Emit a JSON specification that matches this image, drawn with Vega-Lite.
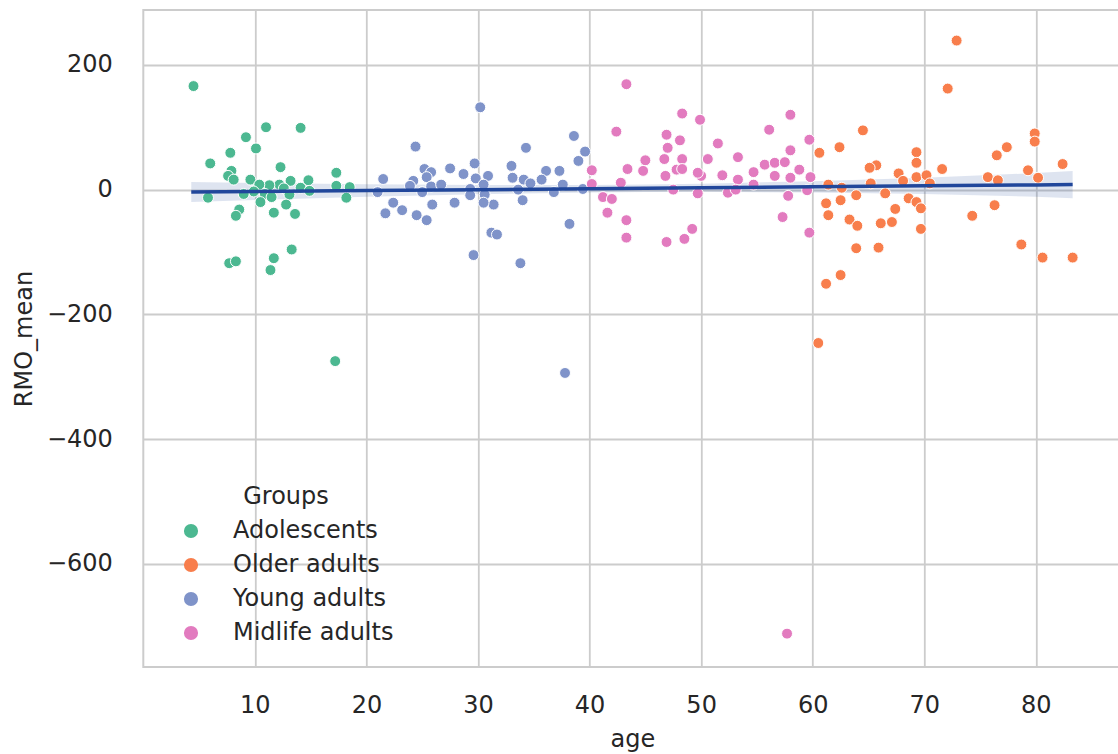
{
  "$schema": "https://vega.github.io/schema/vega-lite/v6.json",
  "width": 978,
  "height": 657,
  "autosize": "none",
  "padding": {"left": 143.3, "top": 10, "right": 0, "bottom": 87},
  "background": "white",
  "config": {
    "font": "DejaVu Sans",
    "view": {"stroke": "#cccccc", "strokeWidth": 2},
    "axis": {
      "grid": true,
      "gridColor": "#cccccc",
      "gridWidth": 1.8,
      "domain": false,
      "ticks": false,
      "labelFont": "DejaVu Sans",
      "labelFontSize": 24,
      "labelColor": "#262626",
      "titleFont": "DejaVu Sans",
      "titleFontSize": 24,
      "titleFontWeight": "normal",
      "titleColor": "#262626"
    },
    "legend": {
      "labelFont": "DejaVu Sans",
      "titleFont": "DejaVu Sans",
      "labelColor": "#262626",
      "titleColor": "#262626"
    }
  },
  "datasets": {
    "points": [
      {"age": 4.5, "RMO_mean": 166, "Groups": "Adolescents"},
      {"age": 11.0, "RMO_mean": 100, "Groups": "Adolescents"},
      {"age": 14.1, "RMO_mean": 99, "Groups": "Adolescents"},
      {"age": 9.2, "RMO_mean": 84, "Groups": "Adolescents"},
      {"age": 10.1, "RMO_mean": 66, "Groups": "Adolescents"},
      {"age": 7.8, "RMO_mean": 59, "Groups": "Adolescents"},
      {"age": 6.0, "RMO_mean": 42, "Groups": "Adolescents"},
      {"age": 12.3, "RMO_mean": 36, "Groups": "Adolescents"},
      {"age": 17.3, "RMO_mean": 27, "Groups": "Adolescents"},
      {"age": 7.9, "RMO_mean": 30, "Groups": "Adolescents"},
      {"age": 7.6, "RMO_mean": 22, "Groups": "Adolescents"},
      {"age": 8.1, "RMO_mean": 16, "Groups": "Adolescents"},
      {"age": 9.6, "RMO_mean": 16, "Groups": "Adolescents"},
      {"age": 13.2, "RMO_mean": 14, "Groups": "Adolescents"},
      {"age": 14.8, "RMO_mean": 15, "Groups": "Adolescents"},
      {"age": 12.2, "RMO_mean": 8, "Groups": "Adolescents"},
      {"age": 11.3, "RMO_mean": 7, "Groups": "Adolescents"},
      {"age": 17.3, "RMO_mean": 6, "Groups": "Adolescents"},
      {"age": 18.5, "RMO_mean": 4, "Groups": "Adolescents"},
      {"age": 10.3, "RMO_mean": 3, "Groups": "Adolescents"},
      {"age": 14.1, "RMO_mean": 3, "Groups": "Adolescents"},
      {"age": 10.4, "RMO_mean": 8, "Groups": "Adolescents"},
      {"age": 9.9, "RMO_mean": -3, "Groups": "Adolescents"},
      {"age": 12.6, "RMO_mean": 2, "Groups": "Adolescents"},
      {"age": 9.0, "RMO_mean": -7, "Groups": "Adolescents"},
      {"age": 10.9, "RMO_mean": -7, "Groups": "Adolescents"},
      {"age": 13.1, "RMO_mean": -8, "Groups": "Adolescents"},
      {"age": 14.9, "RMO_mean": -2, "Groups": "Adolescents"},
      {"age": 5.8, "RMO_mean": -13, "Groups": "Adolescents"},
      {"age": 18.2, "RMO_mean": -13, "Groups": "Adolescents"},
      {"age": 10.5, "RMO_mean": -20, "Groups": "Adolescents"},
      {"age": 11.5, "RMO_mean": -12, "Groups": "Adolescents"},
      {"age": 12.8, "RMO_mean": -24, "Groups": "Adolescents"},
      {"age": 8.6, "RMO_mean": -32, "Groups": "Adolescents"},
      {"age": 8.3, "RMO_mean": -42, "Groups": "Adolescents"},
      {"age": 11.7, "RMO_mean": -37, "Groups": "Adolescents"},
      {"age": 13.6, "RMO_mean": -39, "Groups": "Adolescents"},
      {"age": 13.3, "RMO_mean": -96, "Groups": "Adolescents"},
      {"age": 11.7, "RMO_mean": -110, "Groups": "Adolescents"},
      {"age": 7.7, "RMO_mean": -118, "Groups": "Adolescents"},
      {"age": 8.3, "RMO_mean": -115, "Groups": "Adolescents"},
      {"age": 11.4, "RMO_mean": -129, "Groups": "Adolescents"},
      {"age": 17.2, "RMO_mean": -275, "Groups": "Adolescents"},
      {"age": 60.6, "RMO_mean": 59, "Groups": "Older adults"},
      {"age": 61.2, "RMO_mean": -22, "Groups": "Older adults"},
      {"age": 61.4, "RMO_mean": -41, "Groups": "Older adults"},
      {"age": 61.2, "RMO_mean": -151, "Groups": "Older adults"},
      {"age": 72.9, "RMO_mean": 239, "Groups": "Older adults"},
      {"age": 72.1, "RMO_mean": 162, "Groups": "Older adults"},
      {"age": 64.5, "RMO_mean": 95, "Groups": "Older adults"},
      {"age": 62.4, "RMO_mean": 68, "Groups": "Older adults"},
      {"age": 79.9, "RMO_mean": 90, "Groups": "Older adults"},
      {"age": 79.9, "RMO_mean": 77, "Groups": "Older adults"},
      {"age": 77.4, "RMO_mean": 68, "Groups": "Older adults"},
      {"age": 76.5, "RMO_mean": 55, "Groups": "Older adults"},
      {"age": 69.3, "RMO_mean": 60, "Groups": "Older adults"},
      {"age": 69.3, "RMO_mean": 43, "Groups": "Older adults"},
      {"age": 65.7, "RMO_mean": 39, "Groups": "Older adults"},
      {"age": 65.1, "RMO_mean": 35, "Groups": "Older adults"},
      {"age": 71.6, "RMO_mean": 33, "Groups": "Older adults"},
      {"age": 82.4, "RMO_mean": 41, "Groups": "Older adults"},
      {"age": 79.3, "RMO_mean": 31, "Groups": "Older adults"},
      {"age": 67.7, "RMO_mean": 26, "Groups": "Older adults"},
      {"age": 69.3, "RMO_mean": 20, "Groups": "Older adults"},
      {"age": 70.2, "RMO_mean": 23, "Groups": "Older adults"},
      {"age": 75.7, "RMO_mean": 20, "Groups": "Older adults"},
      {"age": 76.6, "RMO_mean": 15, "Groups": "Older adults"},
      {"age": 80.2, "RMO_mean": 19, "Groups": "Older adults"},
      {"age": 65.2, "RMO_mean": 10, "Groups": "Older adults"},
      {"age": 62.6, "RMO_mean": 3, "Groups": "Older adults"},
      {"age": 61.4, "RMO_mean": 8, "Groups": "Older adults"},
      {"age": 68.1, "RMO_mean": 14, "Groups": "Older adults"},
      {"age": 70.5, "RMO_mean": 10, "Groups": "Older adults"},
      {"age": 63.9, "RMO_mean": -9, "Groups": "Older adults"},
      {"age": 66.5, "RMO_mean": -6, "Groups": "Older adults"},
      {"age": 62.5, "RMO_mean": -17, "Groups": "Older adults"},
      {"age": 68.6, "RMO_mean": -14, "Groups": "Older adults"},
      {"age": 69.3, "RMO_mean": -20, "Groups": "Older adults"},
      {"age": 69.7, "RMO_mean": -30, "Groups": "Older adults"},
      {"age": 67.4, "RMO_mean": -31, "Groups": "Older adults"},
      {"age": 76.3, "RMO_mean": -25, "Groups": "Older adults"},
      {"age": 63.3, "RMO_mean": -48, "Groups": "Older adults"},
      {"age": 64.0, "RMO_mean": -58, "Groups": "Older adults"},
      {"age": 66.1, "RMO_mean": -54, "Groups": "Older adults"},
      {"age": 67.1, "RMO_mean": -52, "Groups": "Older adults"},
      {"age": 69.7, "RMO_mean": -63, "Groups": "Older adults"},
      {"age": 74.3, "RMO_mean": -42, "Groups": "Older adults"},
      {"age": 63.9, "RMO_mean": -94, "Groups": "Older adults"},
      {"age": 65.9, "RMO_mean": -93, "Groups": "Older adults"},
      {"age": 78.7, "RMO_mean": -88, "Groups": "Older adults"},
      {"age": 80.6, "RMO_mean": -109, "Groups": "Older adults"},
      {"age": 83.3, "RMO_mean": -109, "Groups": "Older adults"},
      {"age": 62.5, "RMO_mean": -137, "Groups": "Older adults"},
      {"age": 60.5, "RMO_mean": -246, "Groups": "Older adults"},
      {"age": 30.2, "RMO_mean": 132, "Groups": "Young adults"},
      {"age": 24.4, "RMO_mean": 69, "Groups": "Young adults"},
      {"age": 34.3, "RMO_mean": 67, "Groups": "Young adults"},
      {"age": 38.6, "RMO_mean": 86, "Groups": "Young adults"},
      {"age": 39.6, "RMO_mean": 61, "Groups": "Young adults"},
      {"age": 39.0, "RMO_mean": 46, "Groups": "Young adults"},
      {"age": 29.7, "RMO_mean": 42, "Groups": "Young adults"},
      {"age": 33.0, "RMO_mean": 38, "Groups": "Young adults"},
      {"age": 25.2, "RMO_mean": 33, "Groups": "Young adults"},
      {"age": 27.5, "RMO_mean": 34, "Groups": "Young adults"},
      {"age": 28.7, "RMO_mean": 25, "Groups": "Young adults"},
      {"age": 30.9, "RMO_mean": 22, "Groups": "Young adults"},
      {"age": 36.1, "RMO_mean": 30, "Groups": "Young adults"},
      {"age": 37.3, "RMO_mean": 30, "Groups": "Young adults"},
      {"age": 35.7, "RMO_mean": 16, "Groups": "Young adults"},
      {"age": 33.1, "RMO_mean": 19, "Groups": "Young adults"},
      {"age": 21.5, "RMO_mean": 17, "Groups": "Young adults"},
      {"age": 25.8, "RMO_mean": 28, "Groups": "Young adults"},
      {"age": 25.4, "RMO_mean": 20, "Groups": "Young adults"},
      {"age": 24.2, "RMO_mean": 14, "Groups": "Young adults"},
      {"age": 23.9, "RMO_mean": 6, "Groups": "Young adults"},
      {"age": 25.8, "RMO_mean": 5, "Groups": "Young adults"},
      {"age": 26.7, "RMO_mean": 8, "Groups": "Young adults"},
      {"age": 29.8, "RMO_mean": 18, "Groups": "Young adults"},
      {"age": 30.5, "RMO_mean": 8, "Groups": "Young adults"},
      {"age": 34.1, "RMO_mean": 16, "Groups": "Young adults"},
      {"age": 34.7, "RMO_mean": 10, "Groups": "Young adults"},
      {"age": 37.6, "RMO_mean": 8, "Groups": "Young adults"},
      {"age": 39.4, "RMO_mean": 1, "Groups": "Young adults"},
      {"age": 21.0, "RMO_mean": -4, "Groups": "Young adults"},
      {"age": 25.0, "RMO_mean": -4, "Groups": "Young adults"},
      {"age": 29.3, "RMO_mean": 1, "Groups": "Young adults"},
      {"age": 29.3, "RMO_mean": -9, "Groups": "Young adults"},
      {"age": 30.6, "RMO_mean": -8, "Groups": "Young adults"},
      {"age": 33.6, "RMO_mean": 0, "Groups": "Young adults"},
      {"age": 36.8, "RMO_mean": -4, "Groups": "Young adults"},
      {"age": 22.4, "RMO_mean": -21, "Groups": "Young adults"},
      {"age": 25.9, "RMO_mean": -24, "Groups": "Young adults"},
      {"age": 27.9, "RMO_mean": -21, "Groups": "Young adults"},
      {"age": 31.4, "RMO_mean": -24, "Groups": "Young adults"},
      {"age": 34.0, "RMO_mean": -17, "Groups": "Young adults"},
      {"age": 30.5, "RMO_mean": -21, "Groups": "Young adults"},
      {"age": 21.7, "RMO_mean": -38, "Groups": "Young adults"},
      {"age": 23.2, "RMO_mean": -33, "Groups": "Young adults"},
      {"age": 24.5, "RMO_mean": -41, "Groups": "Young adults"},
      {"age": 25.4, "RMO_mean": -49, "Groups": "Young adults"},
      {"age": 31.2, "RMO_mean": -69, "Groups": "Young adults"},
      {"age": 31.7, "RMO_mean": -72, "Groups": "Young adults"},
      {"age": 38.2, "RMO_mean": -55, "Groups": "Young adults"},
      {"age": 29.6, "RMO_mean": -105, "Groups": "Young adults"},
      {"age": 33.8, "RMO_mean": -118, "Groups": "Young adults"},
      {"age": 37.8, "RMO_mean": -294, "Groups": "Young adults"},
      {"age": 43.3, "RMO_mean": 169, "Groups": "Midlife adults"},
      {"age": 48.3, "RMO_mean": 122, "Groups": "Midlife adults"},
      {"age": 49.9, "RMO_mean": 112, "Groups": "Midlife adults"},
      {"age": 58.0, "RMO_mean": 120, "Groups": "Midlife adults"},
      {"age": 56.1, "RMO_mean": 96, "Groups": "Midlife adults"},
      {"age": 42.4, "RMO_mean": 93, "Groups": "Midlife adults"},
      {"age": 46.9, "RMO_mean": 88, "Groups": "Midlife adults"},
      {"age": 48.1, "RMO_mean": 79, "Groups": "Midlife adults"},
      {"age": 51.5, "RMO_mean": 74, "Groups": "Midlife adults"},
      {"age": 59.7, "RMO_mean": 80, "Groups": "Midlife adults"},
      {"age": 47.0, "RMO_mean": 67, "Groups": "Midlife adults"},
      {"age": 58.0, "RMO_mean": 63, "Groups": "Midlife adults"},
      {"age": 53.3, "RMO_mean": 52, "Groups": "Midlife adults"},
      {"age": 50.6, "RMO_mean": 49, "Groups": "Midlife adults"},
      {"age": 46.7, "RMO_mean": 49, "Groups": "Midlife adults"},
      {"age": 48.3, "RMO_mean": 49, "Groups": "Midlife adults"},
      {"age": 45.0, "RMO_mean": 47, "Groups": "Midlife adults"},
      {"age": 55.7, "RMO_mean": 40, "Groups": "Midlife adults"},
      {"age": 56.6, "RMO_mean": 43, "Groups": "Midlife adults"},
      {"age": 57.5, "RMO_mean": 44, "Groups": "Midlife adults"},
      {"age": 58.8, "RMO_mean": 32, "Groups": "Midlife adults"},
      {"age": 43.4, "RMO_mean": 33, "Groups": "Midlife adults"},
      {"age": 44.8, "RMO_mean": 30, "Groups": "Midlife adults"},
      {"age": 47.8, "RMO_mean": 32, "Groups": "Midlife adults"},
      {"age": 48.3, "RMO_mean": 33, "Groups": "Midlife adults"},
      {"age": 40.2, "RMO_mean": 31, "Groups": "Midlife adults"},
      {"age": 46.8, "RMO_mean": 22, "Groups": "Midlife adults"},
      {"age": 50.0, "RMO_mean": 22, "Groups": "Midlife adults"},
      {"age": 51.9, "RMO_mean": 23, "Groups": "Midlife adults"},
      {"age": 54.7, "RMO_mean": 28, "Groups": "Midlife adults"},
      {"age": 56.6, "RMO_mean": 22, "Groups": "Midlife adults"},
      {"age": 58.0, "RMO_mean": 19, "Groups": "Midlife adults"},
      {"age": 59.8, "RMO_mean": 20, "Groups": "Midlife adults"},
      {"age": 53.3, "RMO_mean": 16, "Groups": "Midlife adults"},
      {"age": 42.8, "RMO_mean": 11, "Groups": "Midlife adults"},
      {"age": 40.2, "RMO_mean": 9, "Groups": "Midlife adults"},
      {"age": 49.7, "RMO_mean": 27, "Groups": "Midlife adults"},
      {"age": 47.5, "RMO_mean": 0, "Groups": "Midlife adults"},
      {"age": 49.7, "RMO_mean": -6, "Groups": "Midlife adults"},
      {"age": 52.4, "RMO_mean": -5, "Groups": "Midlife adults"},
      {"age": 53.1, "RMO_mean": 0, "Groups": "Midlife adults"},
      {"age": 59.5, "RMO_mean": -1, "Groups": "Midlife adults"},
      {"age": 54.7, "RMO_mean": 8, "Groups": "Midlife adults"},
      {"age": 41.2, "RMO_mean": -12, "Groups": "Midlife adults"},
      {"age": 42.0, "RMO_mean": -15, "Groups": "Midlife adults"},
      {"age": 57.8, "RMO_mean": -10, "Groups": "Midlife adults"},
      {"age": 41.6, "RMO_mean": -37, "Groups": "Midlife adults"},
      {"age": 43.3, "RMO_mean": -49, "Groups": "Midlife adults"},
      {"age": 57.3, "RMO_mean": -44, "Groups": "Midlife adults"},
      {"age": 43.3, "RMO_mean": -77, "Groups": "Midlife adults"},
      {"age": 46.9, "RMO_mean": -84, "Groups": "Midlife adults"},
      {"age": 48.5, "RMO_mean": -79, "Groups": "Midlife adults"},
      {"age": 49.2, "RMO_mean": -63, "Groups": "Midlife adults"},
      {"age": 59.7, "RMO_mean": -69, "Groups": "Midlife adults"},
      {"age": 57.7, "RMO_mean": -712, "Groups": "Midlife adults"}
    ],
    "fit": [
      {"age": 4.3, "fit": -4.0, "lo": -20, "hi": 12},
      {"age": 10, "fit": -3.1, "lo": -16.6, "hi": 10.4},
      {"age": 20, "fit": -1.6, "lo": -11.6, "hi": 8.4},
      {"age": 30, "fit": -0.1, "lo": -7.6, "hi": 7.4},
      {"age": 40, "fit": 1.4, "lo": -4.6, "hi": 7.4},
      {"age": 45, "fit": 2.2, "lo": -3.8, "hi": 8.2},
      {"age": 50, "fit": 2.9, "lo": -3.6, "hi": 9.4},
      {"age": 60, "fit": 4.5, "lo": -4.5, "hi": 13.5},
      {"age": 70, "fit": 6.0, "lo": -7.0, "hi": 19.0},
      {"age": 80, "fit": 7.5, "lo": -11.5, "hi": 26.5},
      {"age": 83.3, "fit": 8.0, "lo": -14, "hi": 30}
    ]
  },
  "layer": [
    {
      "data": {"name": "fit"},
      "mark": {"type": "area", "color": "#21479b", "opacity": 0.15},
      "encoding": {
        "x": {"field": "age", "type": "quantitative", "scale": {"domain": [0, 87.66], "nice": false, "zero": false}, "axis": {"title": "age", "values": [10, 20, 30, 40, 50, 60, 70, 80], "labelPadding": 27, "titlePadding": 10}},
        "y": {"field": "lo", "type": "quantitative", "scale": {"domain": [-765.5, 288], "nice": false, "zero": false}, "axis": {"title": "RMO_mean", "values": [-600, -400, -200, 0, 200], "labelPadding": 31, "titlePadding": 10}},
        "y2": {"field": "hi"}
      }
    },
    {
      "data": {"name": "points"},
      "mark": {"type": "circle", "size": 120, "stroke": "white", "strokeWidth": 1, "opacity": 1},
      "encoding": {
        "x": {"field": "age", "type": "quantitative"},
        "y": {"field": "RMO_mean", "type": "quantitative", "title": "RMO_mean"},
        "color": {
          "field": "Groups",
          "type": "nominal",
          "scale": {"domain": ["Adolescents", "Older adults", "Young adults", "Midlife adults"], "range": ["#4cb891", "#f87e4c", "#7f93c9", "#e27bbf"]},
          "legend": {
            "orient": "none",
            "legendX": 35.7,
            "legendY": 475,
            "title": "Groups",
            "titleFontSize": 24,
            "titleFontWeight": "normal",
            "titleAnchor": "middle",
            "titlePadding": 10,
            "labelFontSize": 24,
            "labelLimit": 0,
            "symbolType": "circle",
            "symbolSize": 200,
            "symbolStrokeWidth": 0,
            "labelOffset": 30,
            "rowPadding": 10,
            "padding": 0
          }
        }
      }
    },
    {
      "data": {"name": "fit"},
      "mark": {"type": "line", "color": "#21479b", "strokeWidth": 3.5},
      "encoding": {
        "x": {"field": "age", "type": "quantitative"},
        "y": {"field": "fit", "type": "quantitative", "title": "RMO_mean"}
      }
    }
  ]
}
